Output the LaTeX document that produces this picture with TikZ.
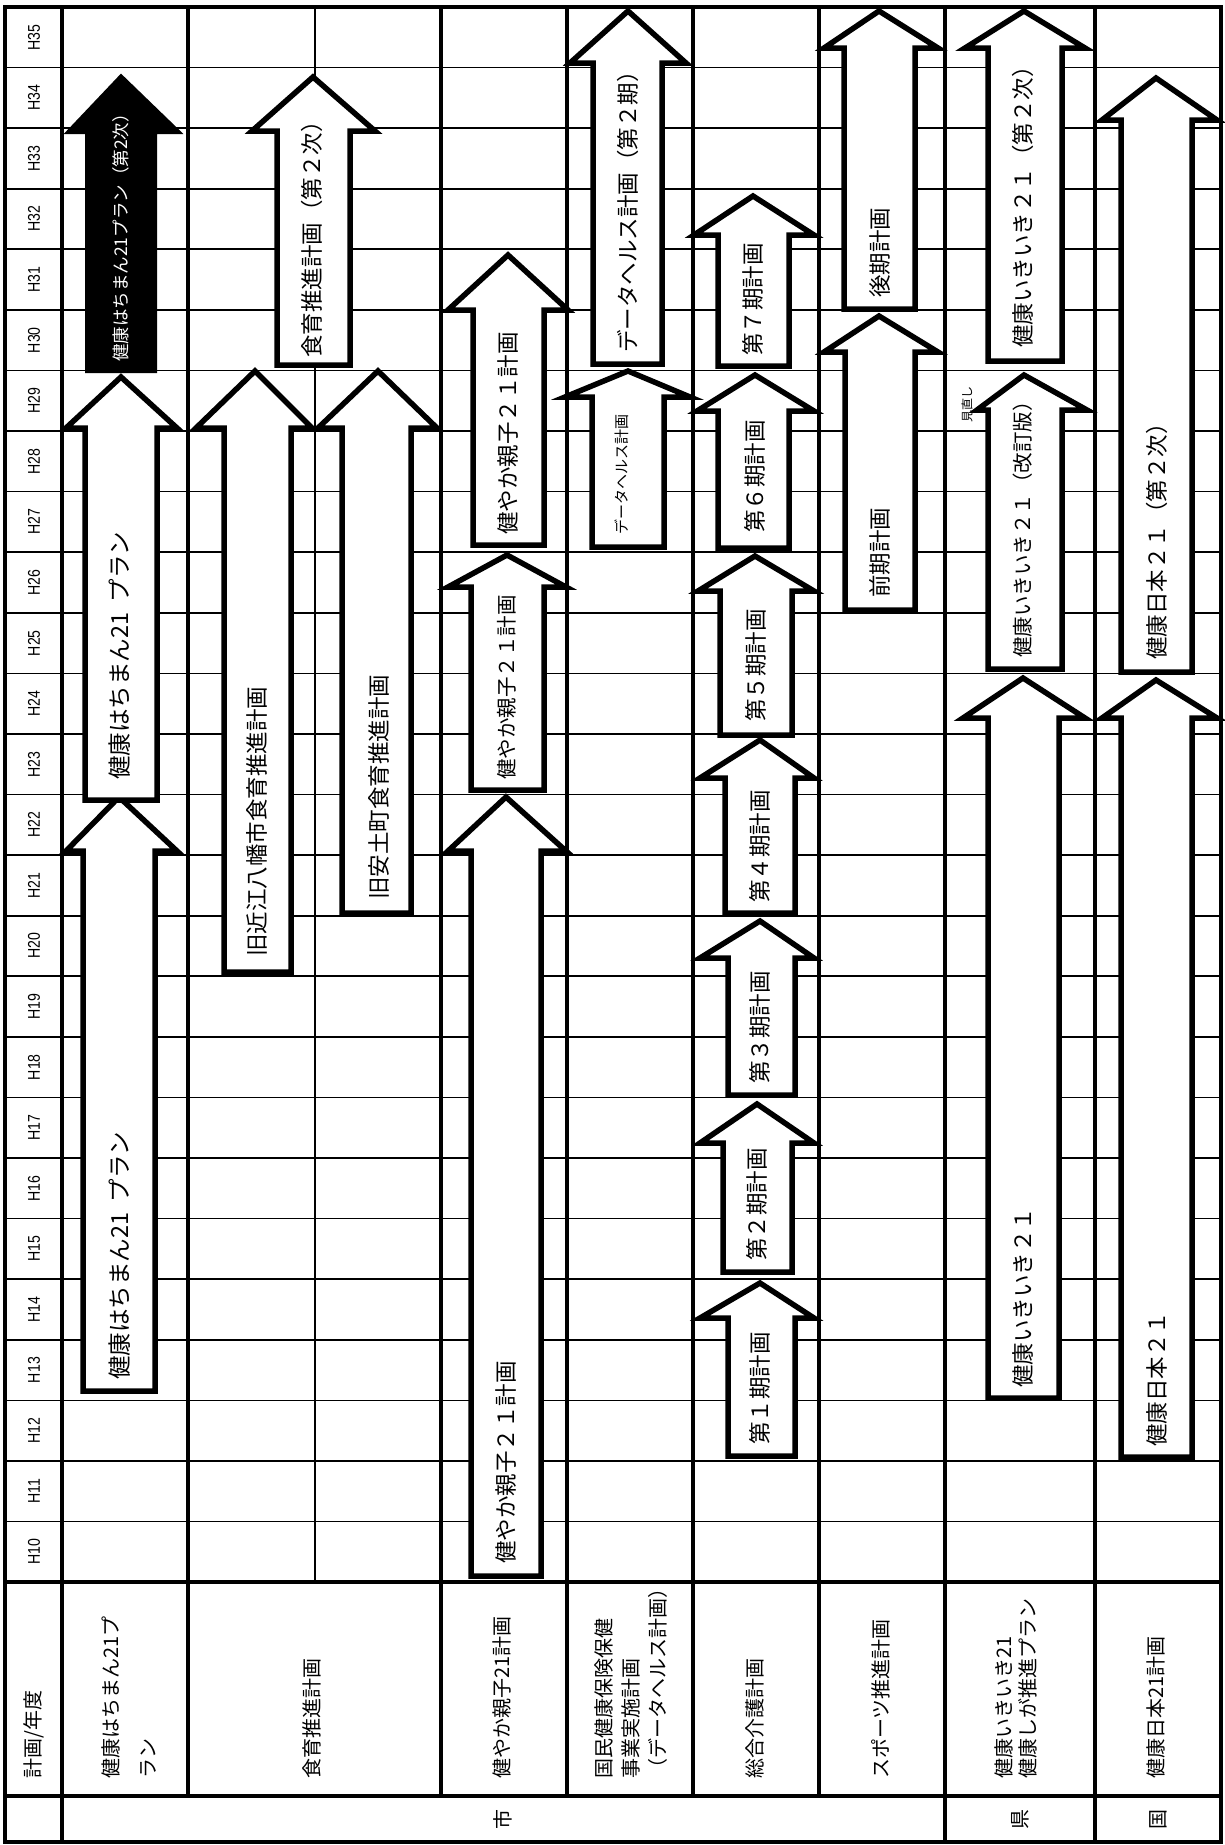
\documentclass[tikz,border=0pt]{standalone}
\usepackage{fontspec}
\usepackage{graphicx}
\setmainfont{Noto Sans CJK JP}
\newfontfamily\yearfont{Liberation Sans}
\tikzset{
  thinline/.style={line width=1.7pt},
  thickline/.style={line width=3.4pt},
  planarrow/.style={draw=black, fill=white, line width=5.5pt, line join=miter, miter limit=10},
  blackarrow/.style={draw=black, fill=black, line width=2pt, line join=miter},
  lbl/.style={rotate=90, anchor=west, inner sep=0pt, font=\fontsize{22.5}{27}\selectfont},
  hdr/.style={rotate=90, anchor=west, inner sep=0pt, align=left, font=\fontsize{20}{24}\selectfont},
  yr/.style={rotate=90, inner sep=0pt, font=\yearfont\fontsize{17}{20}\selectfont},
  grp/.style={rotate=90, inner sep=0pt, font=\fontsize{20}{24}\selectfont},
}
% xl xr wl wr ax ybot ybase yapex
\newcommand\uparr[9][planarrow]{%
  \draw[#1] (#2,#7) -- (#2,#8) -- (#4,#8) -- (#6,#9) -- (#5,#8) -- (#3,#8) -- (#3,#7) -- cycle;}
\begin{document}
\begin{tikzpicture}[x=1pt,y=-1pt]
\useasboundingbox (0,0) rectangle (1224,1845);
\fill[white] (0,0) rectangle (1224,1845);
% ---- grid ----
\foreach \k in {1,...,25} \draw[thinline] (5,{7+60.58*\k}) -- (1221,{7+60.58*\k});
\draw[thinline] (315,7) -- (315,1582);
\foreach \x in {188,441,567,693,819} \draw[thickline] (\x,7) -- (\x,1796);
\foreach \x in {62,945,1095} \draw[thickline] (\x,7) -- (\x,1842);
\draw[thickline] (5,1582) -- (1221,1582);
\draw[thickline] (5,1796) -- (1221,1796);
\draw[thickline] (5,7) rectangle (1221,1842);
% ---- year labels ----
\foreach \n [count=\k from 0] in {35,34,33,32,31,30,29,28,27,26,25,24,23,22,21,20,19,18,17,16,15,14,13,12,11,10}
  \node[yr] (yr\n) at (34,{7+60.58*(\k+0.5)}) {\scalebox{0.83}[1]{H\n}};
% ---- arrows ----
% 健康はちまん
\uparr{83}{155}{66}{177}{119}{1391}{851}{797}
\uparr{85}{157}{66}{177}{121}{800}{428}{377}
\uparr[blackarrow]{86}{156}{66}{181}{121}{372}{133}{75}
% 食育
\uparr{224}{291}{196}{312}{255}{972}{428}{371}
\uparr{342}{411}{318}{437}{378}{913}{428}{371}
\uparr{277}{350}{252}{375}{313}{365}{131}{77}
% 健やか親子
\uparr{471}{541}{448}{566}{506}{1576}{851}{797}
\uparr{471}{544}{448}{566}{507}{790}{587}{555}
\uparr{473}{544}{448}{568}{508}{545}{310}{255}
% データヘルス
\uparr{592}{664}{565}{690}{628}{547}{397}{371}
\uparr{593}{662}{570}{686}{628}{364}{63}{11}
% 介護
\uparr{728}{795}{700}{814}{760}{1456}{1318}{1283}
\uparr{723}{792}{700}{814}{757}{1272}{1143}{1104}
\uparr{728}{795}{700}{814}{760}{1095}{958}{921}
\uparr{725}{795}{700}{814}{760}{913}{778}{740}
\uparr{720}{792}{698}{814}{755}{735}{591}{556}
\uparr{718}{789}{697}{814}{755}{548}{411}{375}
\uparr{718}{789}{694}{814}{753}{366}{235}{196}
% スポーツ
\uparr{845}{915}{824}{938}{879}{610}{352}{316}
\uparr{844}{915}{824}{938}{879}{309}{48}{11}
% 健康いきいき
\uparr{988}{1059}{963}{1085}{1023}{1398}{718}{678}
\uparr{988}{1062}{977}{1087}{1024}{669}{410}{375}
\uparr{988}{1062}{965}{1085}{1024}{361}{48}{11}
% 健康日本
\uparr{1121}{1192}{1102}{1217}{1156}{1457}{718}{680}
\uparr{1121}{1192}{1102}{1217}{1156}{672}{120}{78}
% ---- arrow labels ----
\node[lbl, font=\fontsize{23.5}{27}\selectfont] (a1) at (120,1380) {健康はちまん21\hspace{0.45em}プラン};
\node[lbl, font=\fontsize{23.5}{27}\selectfont] (a2) at (120,780) {健康はちまん21\hspace{0.45em}プラン};
\node[lbl, text=white, font=\fontsize{17.5}{20}\selectfont] (a3) at (121,362) {健康はちまん21プラン（第2次）};
\node[lbl] (b1) at (257,957) {旧近江八幡市食育推進計画};
\node[lbl] (b2) at (379,900) {旧安土町食育推進計画};
\node[lbl] (b3) at (312,358) {食育推進計画（第２次）};
\node[lbl] (c1) at (506,1564) {健やか親子２１計画};
\node[lbl, font=\fontsize{20.5}{24}\selectfont] (c2) at (507,780) {健やか親子２１計画};
\node[lbl] (c3) at (508,535) {健やか親子２１計画};
\node[lbl, font=\fontsize{15}{18}\selectfont] (d1) at (622,535) {データヘルス計画};
\node[lbl] (d2) at (628,353) {データヘルス計画（第２期）};
\node[lbl] (e1) at (760,1445) {第１期計画};
\node[lbl] (e2) at (757,1261) {第２期計画};
\node[lbl] (e3) at (760,1084) {第３期計画};
\node[lbl] (e4) at (760,903) {第４期計画};
\node[lbl] (e5) at (756,722) {第５期計画};
\node[lbl] (e6) at (755,533) {第６期計画};
\node[lbl] (e7) at (753,356) {第７期計画};
\node[lbl] (f1) at (880,598) {前期計画};
\node[lbl] (f2) at (880,298) {後期計画};
\node[lbl] (g1) at (1023,1388) {健康いきいき２１};
\node[lbl, font=\fontsize{20.5}{24}\selectfont] (g2) at (1023,658) {健康いきいき２１（改訂版）};
\node[lbl] (g3) at (1023,348) {健康いきいき２１（第２次）};
\node[lbl, font=\fontsize{12}{14}\selectfont] (minaoshi) at (967,423) {見直し};
\node[lbl] (h1) at (1157,1447) {健康日本２１};
\node[lbl] (h2) at (1157,660) {健康日本２１（第２次）};
% ---- header labels ----
\node[hdr] (hd0) at (34,1779) {計画/年度};
\node[hdr, font=\fontsize{20}{37}\selectfont] (hd1) at (129,1779) {健康はちまん21プ\\ラン};
\node[hdr] (hd2) at (312,1779) {食育推進計画};
\node[hdr] (hd3) at (502,1779) {健やか親子21計画};
\node[hdr, font=\fontsize{20}{27}\selectfont] (hd4) at (631,1779) {国民健康保険保健\\事業実施計画\\（データヘルス計画）};
\node[hdr] (hd5) at (755,1779) {総合介護計画};
\node[hdr] (hd6) at (881,1779) {スポーツ推進計画};
\node[hdr, font=\fontsize{20}{24}\selectfont] (hd7) at (1016,1779) {健康いきいき21\\健康しが推進プラン};
\node[hdr] (hd8) at (1156,1779) {健康日本21計画};
% ---- group labels ----
\node[grp] (gshi) at (503,1819) {市};
\node[grp] (gken) at (1020,1819) {県};
\node[grp] (gkuni) at (1158,1819) {国};
\end{tikzpicture}
\end{document}
